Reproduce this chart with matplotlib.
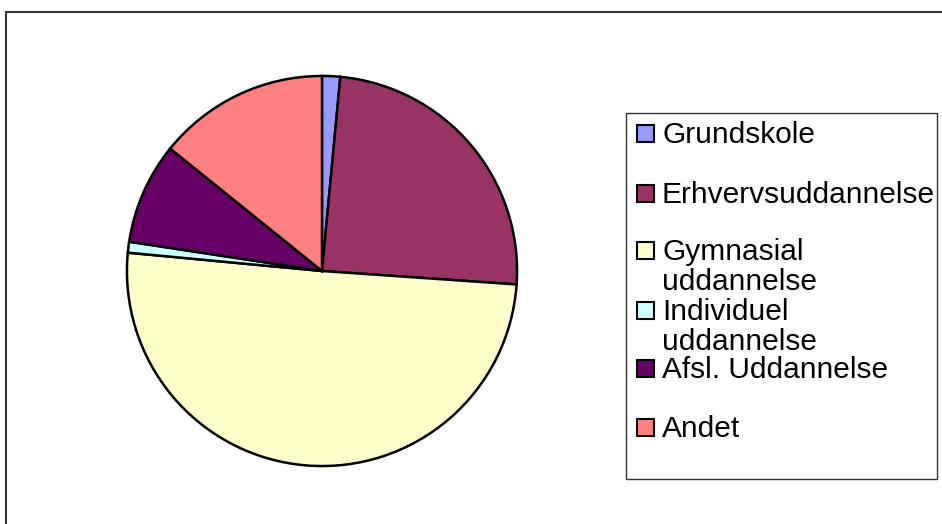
import matplotlib.pyplot as plt
from matplotlib.patches import Rectangle

# education categories and their shares (percent)
labels = ["Grundskole", "Erhvervsuddannelse", "Gymnasial\nuddannelse",
          "Individuel\nuddannelse", "Afsl. Uddannelse", "Andet"]
values = [1.5, 24.6, 50.4, 0.9, 8.4, 14.2]
colors = ["#9999FF", "#993366", "#FFFFCC", "#CCFFFF", "#660066", "#FF8080"]

W, H = 942, 524
plt.rcParams['font.family'] = ['Liberation Sans', 'DejaVu Sans']
fig = plt.figure(figsize=(W / 100, H / 100), dpi=100)

# outer chart frame (runs off the right and bottom edges)
fig.patches.append(Rectangle((6 / W, -0.05), 1.0, 1 - 12 / H + 0.05,
                             transform=fig.transFigure, fill=False,
                             edgecolor="#333333", linewidth=1.5))

# pie
cx, cy, r = 322, 271, 197
ax = fig.add_axes([(cx - r) / W, (H - cy - r) / H, 2 * r / W, 2 * r / H])
ax.pie(values, colors=colors, startangle=90, counterclock=False, radius=1,
       wedgeprops=dict(edgecolor="black", linewidth=1.8))
ax.set_xlim(-1.01, 1.01)
ax.set_ylim(-1.01, 1.01)
ax.set_aspect("equal")
ax.axis("off")

# legend box
fig.patches.append(Rectangle((626 / W, 1 - 479 / H), (937 - 626) / W, (479 - 113) / H,
                             transform=fig.transFigure, fill=False,
                             edgecolor="#333333", linewidth=1.0))
baselines = [143, 203, 260, 320, 378, 437]
for lab, col, yb in zip(labels, colors, baselines):
    fig.patches.append(Rectangle((637 / W, 1 - (yb - 1) / H), 17 / W, 17 / H,
                                 transform=fig.transFigure, facecolor=col,
                                 edgecolor="black", linewidth=1.5))
    for i, line in enumerate(lab.split("\n")):
        fig.text(662 / W, 1 - (yb + 30 * i) / H, line, fontsize=21.5,
                 va="baseline", ha="left")

fig.savefig("out.png", dpi=100)
